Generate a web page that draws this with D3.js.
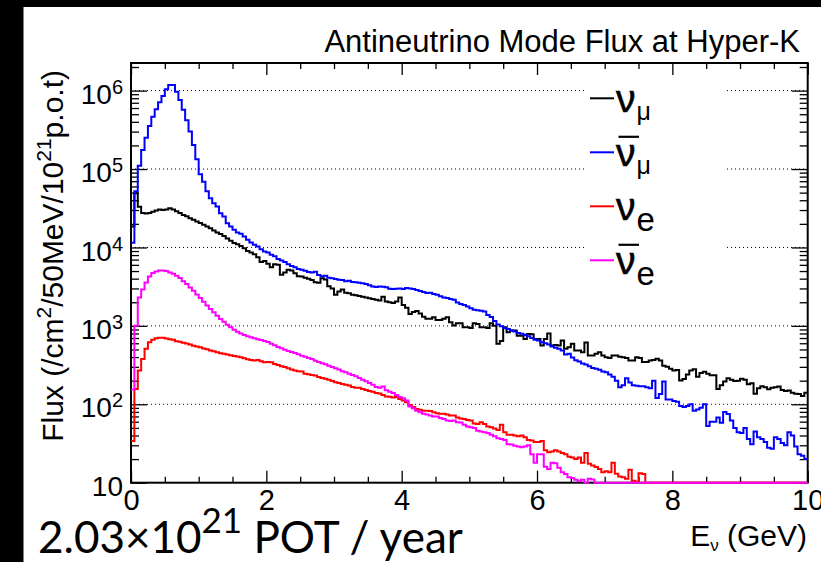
<!DOCTYPE html>
<html>
<head>
<meta charset="utf-8">
<script src="https://cdn.jsdelivr.net/npm/d3@7"></script>
<style>
  html, body { margin: 0; padding: 0; background: #000; }
  svg { display: block; }
</style>
</head>
<body>
<svg id="chart" width="821" height="562"></svg>
<script>
// Hyper-K antineutrino-mode flux, 50 MeV bins from 0 to 10 GeV
// (flux per cm^2 per 50 MeV per 10^21 p.o.t).
const binWidth = 0.05;

const numu = [
  18500, 49000, 33000, 27500, 27000, 27500, 28500, 29500, 30500, 30000,
  30500, 31500, 30500, 29000, 27500, 26000, 25000, 23500, 22500, 21500,
  20500, 19500, 18500, 17600, 16500, 15500, 14800, 14000, 13000, 12200,
  11400, 11000, 10400, 9800, 9000, 8600, 8200, 7500, 6500, 6700,
  6200, 5600, 6100, 6000, 4500, 4800, 5200, 5100, 4700, 4300,
  4250, 4100, 4000, 3850, 3600, 3550, 4050, 3900, 3200, 3000,
  2500, 2750, 2900, 2650, 2600, 2500, 2450, 2400, 2350, 2300,
  2250, 2200, 2150, 2100, 2350, 2050, 2000, 1950, 2050, 2300,
  1850, 1700, 1420, 1500, 1550, 1440, 1310, 1230, 1230, 1290,
  1190, 1190, 1230, 1290, 1110, 1010, 1080, 1080, 960, 960,
  940, 1080, 1060, 960, 960, 940, 1080, 1000, 590, 640,
  960, 830, 870, 870, 750, 750, 680, 790, 780, 680,
  680, 560, 680, 800, 560, 570, 560, 650, 510, 535,
  590, 485, 485, 460, 615, 420, 420, 440, 460, 420,
  398, 390, 420, 420, 405, 398, 390, 361, 361, 398,
  390, 345, 345, 361, 368, 380, 361, 311, 302, 283,
  269, 274, 201, 210, 240, 270, 280, 225, 250, 260,
  245, 235, 235, 157, 175, 195, 215, 205, 198, 200,
  212, 205, 180, 185, 136, 160, 170, 165, 155, 163,
  165, 168, 152, 148, 150, 140, 136, 135, 128, 140
];

const numubar = [
  11500, 52000, 110000, 175000, 250000, 355000, 465000, 580000, 710000, 855000,
  1040000, 1180000, 1180000, 970000, 760000, 570000, 420000, 300000, 203000, 133000,
  86000, 69000, 52000, 42500, 36700, 33300, 27300, 24800, 20400, 18500,
  16800, 15500, 14900, 13800, 12500, 11600, 10800, 10300, 9500, 8900,
  8600, 8100, 7700, 7100, 6800, 6500, 6100, 5800, 5600, 5300,
  5200, 5050, 4850, 4800, 4900, 4450, 4300, 4350, 4100, 4050,
  3950, 3870, 3850, 3700, 3750, 3630, 3600, 3550, 3500, 3430,
  3300, 3180, 3120, 3180, 3150, 3100, 2980, 2950, 2980, 3000,
  2950, 3030, 3000, 2950, 2870, 2780, 2700, 2620, 2650, 2550,
  2500, 2380, 2300, 2260, 2200, 2150, 1980, 1900, 1850, 1770,
  1680, 1610, 1580, 1560, 1520, 1380, 1300, 1150, 1040, 990,
  940, 910, 875, 850, 810, 795, 765, 735, 700, 667,
  650, 617, 600, 580, 545, 525, 510, 485, 430, 440,
  395, 365, 350, 330, 322, 305, 290, 283, 275, 262,
  257, 240, 225, 200, 165, 175, 215, 190, 175, 172,
  170, 170, 165, 160, 200, 120, 135, 195, 115, 115,
  110, 108, 95, 92, 95, 100, 83, 86, 90, 100,
  53, 60, 60, 68, 58, 80, 75, 62, 50, 44,
  43, 50, 36, 31, 45, 38, 36, 33, 28, 27,
  38, 36, 32, 30, 44, 40, 29, 23, 22, 20
];

const nue = [
  34, 157, 269, 379, 509, 620, 663, 696, 703, 703,
  689, 676, 663, 637, 625, 607, 595, 578, 556, 545,
  535, 514, 504, 484, 475, 461, 448, 440, 431, 423,
  414, 406, 398, 387, 376, 368, 361, 368, 354, 344,
  345, 343, 327, 317, 305, 299, 288, 277, 269, 263,
  261, 246, 241, 236, 232, 223, 216, 212, 206, 198,
  191, 187, 182, 178, 173, 166, 162, 163, 157, 152,
  148, 145, 139, 137, 131, 126, 125, 122, 124, 117,
  112, 106, 98, 92, 87, 85, 83, 83, 82, 79,
  77, 75.5, 75.5, 74, 72, 72, 68, 66, 65, 63,
  62, 57, 56, 59, 56, 52, 51, 49, 47, 55,
  44, 41, 41, 40, 39, 40, 38, 35, 34.5, 33,
  33, 34, 26, 24.5, 25, 26, 25, 24, 23, 21.5,
  21, 20, 21, 18, 24, 17.4, 16.6, 15.8, 15, 13.6,
  14, 13.6, 18, 13, 12, 11.7, 11.2, 14.6, 10.6, 10.3,
  13.2, 12.9, 0, 0, 0, 0, 0, 0, 0, 0,
  0, 0, 0, 0, 0, 0, 0, 0, 0, 0,
  0, 0, 0, 0, 0, 0, 0, 0, 0, 0,
  0, 0, 0, 0, 0, 0, 0, 0, 0, 0,
  0, 0, 0, 0, 0, 0, 0, 0, 0, 0
];

const nuebar = [
  154, 1000, 2300, 2900, 3580, 4270, 4710, 4940, 5090, 5090,
  5000, 4810, 4620, 4360, 4070, 3720, 3410, 3090, 2800, 2520,
  2260, 2030, 1820, 1640, 1490, 1350, 1220, 1130, 1035, 957,
  894, 843, 802, 764, 735, 714, 693, 673, 660, 641,
  622, 593, 565, 537, 517, 497, 478, 464, 451, 434,
  417, 405, 389, 378, 360, 346, 333, 323, 311, 299,
  288, 277, 263, 256, 246, 236, 228, 216, 206, 196,
  187, 178, 166, 162, 169, 151, 145, 139, 131, 124,
  119, 112, 94, 89, 83, 79, 75.5, 74, 72, 70,
  70, 67, 65, 62, 61, 62, 59, 58.5, 55, 52,
  51, 50, 46, 45, 44, 43, 41, 39, 37, 36,
  35, 31, 30.6, 29.5, 29, 28.3, 29, 30, 23, 18,
  23, 23, 16, 15, 18, 17.7, 15.5, 13.6, 12.9, 11.7,
  11.5, 10.9, 10.4, 10.9, 0, 11.2, 11, 0, 0, 0,
  0, 0, 0, 0, 0, 0, 0, 0, 0, 0,
  0, 0, 0, 0, 0, 0, 0, 0, 0, 0,
  0, 0, 0, 0, 0, 0, 0, 0, 0, 0,
  0, 0, 0, 0, 0, 0, 0, 0, 0, 0,
  0, 0, 0, 0, 0, 0, 0, 0, 0, 0,
  0, 0, 0, 0, 0, 0, 0, 0, 0, 0
];

const seriesColors = ["#000000", "#0000ff", "#ff0000", "#ff00ff"];
const legendSubscripts = ["μ", "μ", "e", "e"];
const legendBars = [false, true, false, true];

const xTicks = [0, 2, 4, 6, 8, 10];
const yDecades = [1, 2, 3, 4, 5, 6];
const yMin = 10, yMax = 2.25e6;

const FONT = "'Liberation Sans', Arial, Helvetica, sans-serif";

const W = 821, H = 562;
const frame = { left: 131, right: 807.7, top: 63, bottom: 482.7 };

const svg = d3.select("#chart");
svg.append("rect").attr("width", W).attr("height", H).attr("fill", "#000");
svg.append("rect").attr("x", 23.5).attr("y", 7).attr("width", W - 23.5).attr("height", H - 7).attr("fill", "#fff");

const x = d3.scaleLinear().domain([0, 10]).range([frame.left, frame.right]);
const y = d3.scaleLog().domain([yMin, yMax]).range([frame.bottom, frame.top]);

// dotted grid at each decade
const gridVals = yDecades.map(e => Math.pow(10, e)).filter(v => v > yMin);
svg.append("g").selectAll("line").data(gridVals).join("line")
  .attr("x1", frame.left).attr("x2", frame.right)
  .attr("y1", d => y(d)).attr("y2", d => y(d))
  .attr("stroke", "#000").attr("stroke-width", 1).attr("stroke-dasharray", "1,3");

// axes with ticks pointing into the frame
const majorY = yDecades.map(e => Math.pow(10, e));
const minorY = [];
yDecades.forEach(e => {
  for (let k = 2; k <= 9; k++) {
    const v = k * Math.pow(10, e);
    if (v <= yMax) minorY.push(v);
  }
});
const minorX = d3.range(0, 10.0001, 0.5).filter(v => Math.abs(v / 2 - Math.round(v / 2)) > 1e-6);

function strip(g) { g.select(".domain").remove(); g.selectAll("line").attr("stroke", "#000").attr("stroke-width", 1.3); }

svg.append("g").attr("transform", `translate(0,${frame.bottom})`)
  .call(d3.axisBottom(x).tickValues(xTicks).tickSizeInner(-12).tickSizeOuter(0).tickPadding(7).tickFormat(d3.format("d")))
  .call(strip)
  .call(g => g.selectAll("text").attr("font-family", FONT).attr("font-size", 29).attr("fill", "#000"));
svg.append("g").attr("transform", `translate(0,${frame.bottom})`)
  .call(d3.axisBottom(x).tickValues(minorX).tickSizeInner(-6).tickSizeOuter(0).tickFormat(""))
  .call(strip);
svg.append("g").attr("transform", `translate(0,${frame.top})`)
  .call(d3.axisTop(x).tickValues(xTicks).tickSizeInner(-12).tickSizeOuter(0).tickFormat(""))
  .call(strip);
svg.append("g").attr("transform", `translate(0,${frame.top})`)
  .call(d3.axisTop(x).tickValues(minorX).tickSizeInner(-6).tickSizeOuter(0).tickFormat(""))
  .call(strip);

svg.append("g").attr("transform", `translate(${frame.left},0)`)
  .call(d3.axisLeft(y).tickValues(majorY).tickSizeInner(-16).tickSizeOuter(0).tickPadding(8).tickFormat(() => ""))
  .call(strip)
  .call(g => g.selectAll(".tick text").each(function (d) {
    const e = Math.round(Math.log10(d));
    const t = d3.select(this).attr("font-family", FONT).attr("font-size", 28).attr("fill", "#000").attr("dy", "0.45em");
    t.append("tspan").text("10");
    if (e !== 1) t.append("tspan").attr("dy", "-0.5em").attr("font-size", 20).text(e);
  }));
svg.append("g").attr("transform", `translate(${frame.left},0)`)
  .call(d3.axisLeft(y).tickValues(minorY).tickSizeInner(-8).tickSizeOuter(0).tickFormat(""))
  .call(strip);
svg.append("g").attr("transform", `translate(${frame.right},0)`)
  .call(d3.axisRight(y).tickValues(majorY).tickSizeInner(-16).tickSizeOuter(0).tickFormat(""))
  .call(strip);
svg.append("g").attr("transform", `translate(${frame.right},0)`)
  .call(d3.axisRight(y).tickValues(minorY).tickSizeInner(-8).tickSizeOuter(0).tickFormat(""))
  .call(strip);

svg.append("rect")
  .attr("x", frame.left).attr("y", frame.top)
  .attr("width", frame.right - frame.left).attr("height", frame.bottom - frame.top)
  .attr("fill", "none").attr("stroke", "#000").attr("stroke-width", 2);

// histograms as step outlines; empty bins sit on the lower edge
const allSeries = [numu, numubar, nue, nuebar];
const step = d3.line()
  .x(d => x(d[0]))
  .y(d => y(Math.max(d[1], yMin)))
  .curve(d3.curveStepAfter);
allSeries.forEach((vals, i) => {
  const pts = vals.map((v, k) => [k * binWidth, v]);
  pts.push([vals.length * binWidth, vals[vals.length - 1]]);
  svg.append("path").datum(pts)
    .attr("d", step)
    .attr("fill", "none")
    .attr("stroke", seriesColors[i])
    .attr("stroke-width", 2)
    .attr("stroke-linejoin", "miter");
});

// legend
const legend = svg.append("g");
legend.append("rect").attr("x", 585).attr("y", 80).attr("width", 142).attr("height", 212).attr("fill", "#fff");
const legY0 = 98.3, legDy = 54;
allSeries.forEach((_, i) => {
  const ly = legY0 + i * legDy;
  legend.append("line").attr("x1", 590).attr("x2", 614).attr("y1", ly).attr("y2", ly)
    .attr("stroke", seriesColors[i]).attr("stroke-width", 2);
  const isMu = legendSubscripts[i] === "μ";
  const t = legend.append("text").attr("x", 616).attr("y", ly + 13.4)
    .attr("font-family", FONT).attr("fill", "#000");
  t.append("tspan").attr("font-size", 39).attr("stroke", "#000").attr("stroke-width", 0.6).text("ν");
  t.append("tspan").attr("font-size", isMu ? 25 : 33).attr("dy", isMu ? 8 : 11.5).attr("dx", 1).text(legendSubscripts[i]);
  if (legendBars[i]) {
    legend.append("line").attr("x1", 618.5).attr("x2", 639).attr("y1", ly - 15.5).attr("y2", ly - 15.5)
      .attr("stroke", "#000").attr("stroke-width", 2.2);
  }
});

// titles
svg.append("text").attr("x", 800).attr("y", 52).attr("text-anchor", "end")
  .attr("font-family", FONT).attr("font-size", 31).attr("fill", "#000")
  .text("Antineutrino Mode Flux at Hyper-K");

const ytitle = svg.append("text").attr("transform", "translate(63,70) rotate(-90)")
  .attr("text-anchor", "end").attr("font-family", FONT).attr("font-size", 30).attr("fill", "#000");
ytitle.append("tspan").text("Flux (/cm");
ytitle.append("tspan").attr("dy", -12).attr("font-size", 21).text("2");
ytitle.append("tspan").attr("dy", 12).text("/50MeV/10");
ytitle.append("tspan").attr("dy", -12).attr("font-size", 21).text("21");
ytitle.append("tspan").attr("dy", 12).text("p.o.t)");

const xtitle = svg.append("text").attr("x", 807).attr("y", 546).attr("text-anchor", "end")
  .attr("font-family", FONT).attr("font-size", 30).attr("fill", "#000");
xtitle.append("tspan").text("E");
xtitle.append("tspan").attr("dy", 5).attr("font-size", 17).text("ν");
xtitle.append("tspan").attr("dy", -5).text(" (GeV)");

const pot = svg.append("text").attr("x", 38).attr("y", 553)
  .attr("font-family", "Lato, 'Open Sans', sans-serif").attr("font-size", 44).attr("fill", "#000");
pot.append("tspan").text("2.03×10");
pot.append("tspan").attr("dy", -20).attr("font-size", 35).text("21");
pot.append("tspan").attr("dy", 20).text(" POT / year");
</script>
</body>
</html>
